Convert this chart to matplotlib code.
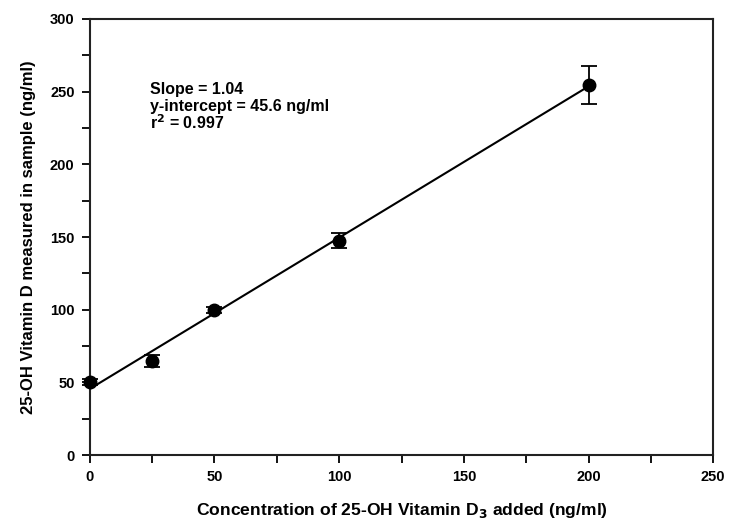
import matplotlib
matplotlib.use("Agg")
import matplotlib.pyplot as plt
from matplotlib.ticker import MultipleLocator

plt.rcParams["font.family"] = ["Liberation Sans", "DejaVu Sans"]
plt.rcParams["font.weight"] = "bold"

added = [0, 25, 50, 100, 200]
measured = [50.4, 64.9, 99.8, 147.5, 254.6]
errors = [2.0, 4.0, 2.0, 5.0, 13.0]

slope = 1.04
intercept = 45.6
r2 = 0.997

fit_x = [0, 200]
fit_y = [intercept + slope * x for x in fit_x]


def main():
    fig = plt.figure(figsize=(7.3, 5.25), dpi=100)
    ax = fig.add_axes([0.123, 0.133, 0.854, 0.831])

    ax.plot(fit_x, fit_y, color="black", linewidth=1.5, zorder=2)
    ax.errorbar(added, measured, yerr=errors, fmt="o", color="black",
                markersize=9, capsize=6, elinewidth=1.3, capthick=1.3,
                zorder=3, clip_on=False)

    ax.set_xlim(0, 250)
    ax.set_ylim(0, 300)
    ax.xaxis.set_major_locator(MultipleLocator(50))
    ax.xaxis.set_minor_locator(MultipleLocator(25))
    ax.yaxis.set_major_locator(MultipleLocator(50))
    ax.yaxis.set_minor_locator(MultipleLocator(25))
    ax.tick_params(which="both", direction="out", width=1.3, labelsize=10.5,
                   top=False, right=False)
    ax.tick_params(which="major", length=6, pad=5)
    ax.tick_params(which="minor", length=6)
    for lab in ax.get_xticklabels() + ax.get_yticklabels():
        lab.set_fontweight("bold")
    for sp in ax.spines.values():
        sp.set_linewidth(1.5)
        sp.set_color("#222222")

    ax.set_xlabel("Concentration of 25-OH Vitamin D$_\\mathbf{3}$ added (ng/ml)",
                  fontsize=12.6, fontweight="bold", labelpad=12)
    ax.set_ylabel("25-OH Vitamin D measured in sample (ng/ml)",
                  fontsize=12, fontweight="bold", labelpad=10)

    ax.text(24, 251.5, f"Slope = {slope:.2f}", fontsize=11.5, fontweight="bold", va="center")
    ax.text(24, 240, f"y-intercept = {intercept} ng/ml", fontsize=11.5, fontweight="bold", va="center")
    ax.text(24, 228.5, f"r$^\\mathbf{{2}}$ = {r2}", fontsize=11.5, fontweight="bold", va="center")

    fig.savefig("out.png", dpi=100)


if __name__ == "__main__":
    main()
